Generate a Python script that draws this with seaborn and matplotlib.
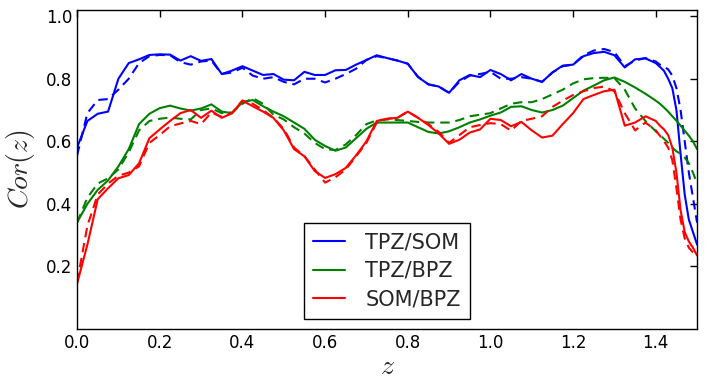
import matplotlib
matplotlib.use("Agg")
import matplotlib.pyplot as plt
import seaborn as sns
import pandas as pd

# redshift grid (finer near the high-z drop)
z = [0.000, 0.025, 0.050, 0.075, 0.100, 0.125, 0.150, 0.175, 0.200, 0.225,
     0.250, 0.275, 0.300, 0.325, 0.350, 0.375, 0.400, 0.425, 0.450, 0.475,
     0.500, 0.525, 0.550, 0.575, 0.600, 0.625, 0.650, 0.675, 0.700, 0.725,
     0.750, 0.775, 0.800, 0.825, 0.850, 0.875, 0.900, 0.925, 0.950, 0.975,
     1.000, 1.025, 1.050, 1.075, 1.100, 1.125, 1.150, 1.175, 1.200, 1.225,
     1.250, 1.275, 1.300, 1.325, 1.350, 1.375, 1.400,
     1.41, 1.42, 1.43, 1.44, 1.45, 1.46, 1.47, 1.48, 1.49, 1.50]

tpz_som = [0.58, 0.665, 0.688, 0.695, 0.80, 0.85, 0.862, 0.876, 0.878, 0.877,
           0.858, 0.872, 0.857, 0.863, 0.815, 0.826, 0.840, 0.826, 0.812, 0.815,
           0.797, 0.795, 0.822, 0.812, 0.812, 0.827, 0.828, 0.845, 0.860, 0.875,
           0.866, 0.858, 0.848, 0.805, 0.782, 0.775, 0.755, 0.795, 0.812, 0.805,
           0.828, 0.815, 0.795, 0.815, 0.800, 0.790, 0.820, 0.842, 0.845, 0.872,
           0.882, 0.886, 0.875, 0.836, 0.862, 0.865, 0.850,
           0.838, 0.825, 0.80, 0.77, 0.70, 0.56, 0.43, 0.35, 0.31, 0.27]
tpz_som_d = [0.555, 0.69, 0.732, 0.735, 0.765, 0.80, 0.85, 0.872, 0.876, 0.875,
             0.853, 0.845, 0.855, 0.858, 0.815, 0.82, 0.835, 0.81, 0.80, 0.805,
             0.79, 0.782, 0.80, 0.80, 0.788, 0.80, 0.815, 0.832, 0.86, 0.872,
             0.866, 0.858, 0.848, 0.806, 0.782, 0.775, 0.755, 0.79, 0.81, 0.815,
             0.822, 0.80, 0.80, 0.805, 0.80, 0.79, 0.82, 0.84, 0.845, 0.875,
             0.89, 0.895, 0.885, 0.84, 0.858, 0.866, 0.855,
             0.845, 0.838, 0.83, 0.81, 0.77, 0.70, 0.60, 0.50, 0.42, 0.34]

tpz_bpz = [0.341, 0.40, 0.445, 0.475, 0.52, 0.575, 0.655, 0.688, 0.706, 0.714,
           0.705, 0.698, 0.705, 0.718, 0.695, 0.690, 0.725, 0.732, 0.712, 0.695,
           0.680, 0.660, 0.640, 0.605, 0.585, 0.570, 0.580, 0.610, 0.640, 0.660,
           0.660, 0.660, 0.660, 0.645, 0.630, 0.625, 0.632, 0.645, 0.660, 0.670,
           0.682, 0.692, 0.710, 0.712, 0.700, 0.692, 0.700, 0.714, 0.738, 0.762,
           0.778, 0.795, 0.804, 0.790, 0.772, 0.752, 0.730,
           0.720, 0.708, 0.695, 0.680, 0.666, 0.650, 0.634, 0.618, 0.60, 0.575]
tpz_bpz_d = [0.34, 0.42, 0.465, 0.482, 0.51, 0.565, 0.635, 0.665, 0.672, 0.676,
             0.672, 0.670, 0.70, 0.705, 0.69, 0.692, 0.72, 0.738, 0.72, 0.685,
             0.67, 0.645, 0.625, 0.595, 0.575, 0.572, 0.59, 0.62, 0.655, 0.667,
             0.670, 0.668, 0.665, 0.662, 0.660, 0.660, 0.660, 0.668, 0.680, 0.685,
             0.690, 0.705, 0.720, 0.725, 0.725, 0.735, 0.750, 0.765, 0.785, 0.798,
             0.802, 0.803, 0.802, 0.765, 0.705, 0.665, 0.632,
             0.62, 0.608, 0.595, 0.58, 0.568, 0.56, 0.548, 0.53, 0.50, 0.465]

som_bpz = [0.145, 0.27, 0.415, 0.45, 0.482, 0.492, 0.53, 0.61, 0.638, 0.665,
           0.69, 0.70, 0.675, 0.698, 0.675, 0.69, 0.73, 0.712, 0.695, 0.675,
           0.635, 0.575, 0.552, 0.505, 0.483, 0.495, 0.515, 0.555, 0.60, 0.665,
           0.672, 0.675, 0.695, 0.675, 0.652, 0.625, 0.592, 0.605, 0.628, 0.638,
           0.672, 0.668, 0.648, 0.662, 0.635, 0.612, 0.618, 0.655, 0.690, 0.735,
           0.748, 0.760, 0.765, 0.650, 0.660, 0.680, 0.665,
           0.650, 0.638, 0.620, 0.58, 0.50, 0.38, 0.31, 0.28, 0.26, 0.235]
som_bpz_d = [0.15, 0.33, 0.43, 0.465, 0.49, 0.50, 0.52, 0.595, 0.62, 0.648,
             0.657, 0.665, 0.655, 0.692, 0.678, 0.69, 0.73, 0.72, 0.70, 0.675,
             0.64, 0.58, 0.553, 0.51, 0.468, 0.485, 0.51, 0.552, 0.595, 0.66,
             0.672, 0.675, 0.695, 0.675, 0.655, 0.63, 0.595, 0.62, 0.645, 0.652,
             0.658, 0.655, 0.634, 0.665, 0.672, 0.680, 0.710, 0.730, 0.748, 0.760,
             0.770, 0.775, 0.760, 0.690, 0.635, 0.660, 0.635,
             0.618, 0.60, 0.58, 0.54, 0.45, 0.35, 0.29, 0.26, 0.245, 0.235]

labels = ["TPZ/SOM", "TPZ/BPZ", "SOM/BPZ"]
colors = ["b", "g", "r"]

sns.set_style("white")
plt.rcParams["font.family"] = ["DejaVu Sans"]
plt.rcParams["mathtext.fontset"] = "cm"

fig = plt.figure(figsize=(7.07, 3.80), dpi=100)
ax = fig.add_axes([0.109, 0.134, 0.877, 0.84])

solid = [tpz_som, tpz_bpz, som_bpz]
dashed = [tpz_som_d, tpz_bpz_d, som_bpz_d]

for lab, col, s, d in zip(labels, colors, solid, dashed):
    sns.lineplot(x=z, y=s, color=col, lw=1.5, ax=ax, label=lab)
    sns.lineplot(x=z, y=d, color=col, lw=1.5, ax=ax)
    ax.lines[-1].set_dashes((4.5, 2.8))

ax.set_xlim(0, 1.5)
ax.set_ylim(0, 1.02)
ax.set_yticks([0.2, 0.4, 0.6, 0.8, 1.0])
ax.set_xticks([0.0, 0.2, 0.4, 0.6, 0.8, 1.0, 1.2, 1.4])
ax.tick_params(direction="in", length=5, width=1, top=True, right=True,
               labelsize=12, colors="black")
for sp in ax.spines.values():
    sp.set_color("black")
    sp.set_linewidth(1.0)

ax.set_xlabel("$z$", fontsize=20, labelpad=0)
ax.set_ylabel("$Cor(z)$", fontsize=20, labelpad=6)

h, l = ax.get_legend_handles_labels()
leg = ax.legend(h[:3], l[:3], loc="lower center", bbox_to_anchor=(0.5, 0.0),
                fontsize=15, handlelength=1.5, handletextpad=1.0,
                fancybox=False, framealpha=1, edgecolor="black",
                borderpad=0.45, labelspacing=0.4)
leg.get_frame().set_linewidth(1.0)

fig.savefig("out.png", dpi=100)
